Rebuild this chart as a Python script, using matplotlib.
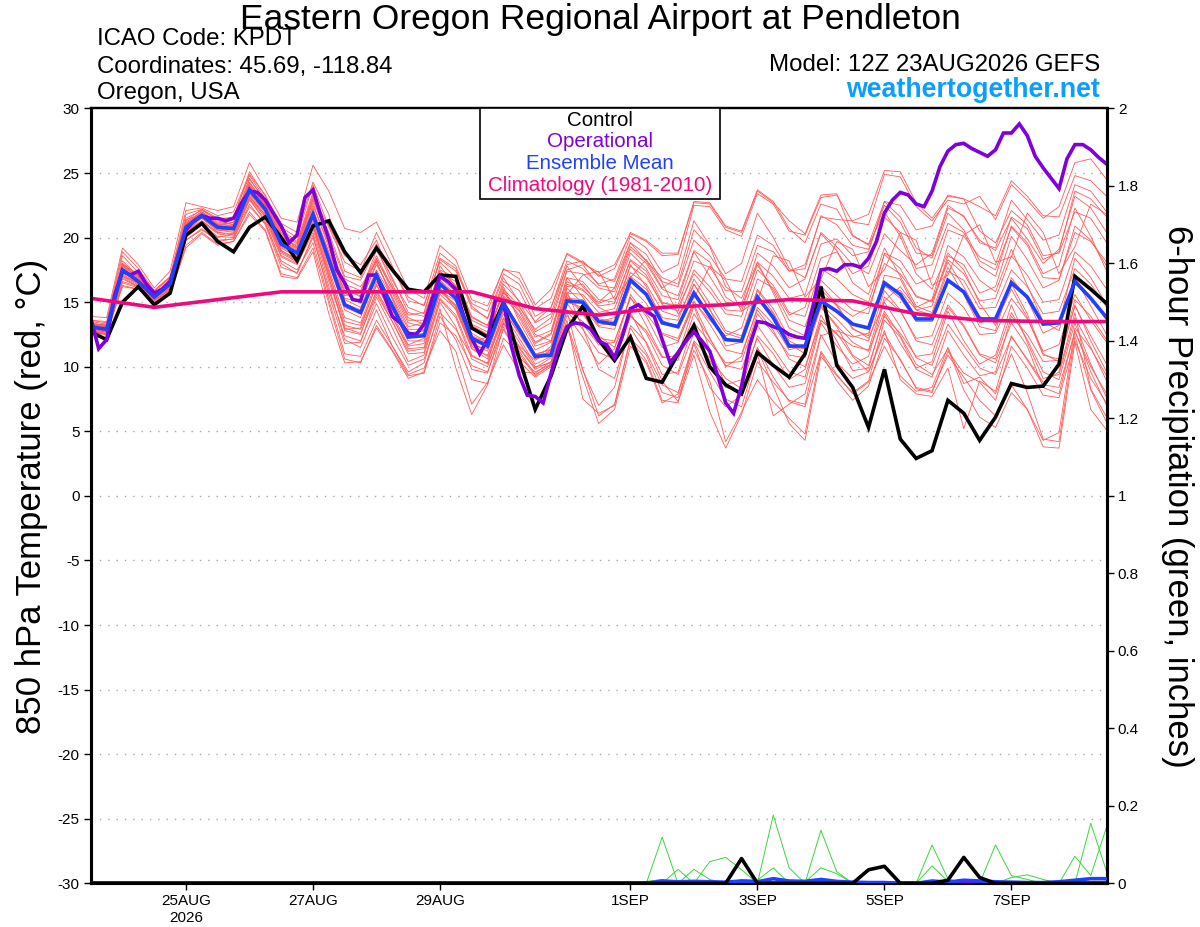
import matplotlib
matplotlib.use("Agg")
import matplotlib.pyplot as plt
from matplotlib.patches import Rectangle
from datetime import datetime, timedelta

plt.rcParams['font.family'] = ['Liberation Sans', 'DejaVu Sans']

# ---------------- data ----------------
start = datetime(2026, 8, 23, 12)
times6 = [start + timedelta(hours=6 * i) for i in range(65)]
times3 = [start + timedelta(hours=3 * i) for i in range(129)]
times24 = [start + timedelta(hours=24 * i) for i in range(17)]

control = [12.7, 12.1, 15.0, 16.2, 14.8, 15.7, 20.2, 21.1, 19.7, 18.9, 20.8, 21.6, 20.0, 18.2, 20.9, 21.3,
           18.9, 17.3, 19.2, 17.5, 16.0, 15.8, 17.1, 17.0, 13.0, 12.3, 14.9, 10.6, 6.7, 9.3, 12.9, 14.7,
           12.1, 10.5, 12.3, 9.1, 8.8, 11.0, 13.2, 10.0, 8.6, 7.9, 11.1, 10.1, 9.2, 11.0, 16.2, 10.1,
           8.4, 5.3, 9.8, 4.4, 2.9, 3.5, 7.4, 6.4, 4.3, 6.1, 8.7, 8.4, 8.5, 10.2, 17.0, 16.0, 14.9]

ens_mean = [13.1, 12.9, 17.5, 16.6, 15.4, 16.4, 20.8, 21.7, 20.8, 20.7, 23.7, 22.2, 19.5, 18.8, 21.8, 18.3,
            14.8, 14.2, 17.1, 14.7, 12.3, 12.4, 16.4, 15.3, 12.2, 11.6, 14.9, 12.9, 10.8, 10.9, 15.1, 15.0,
            13.5, 13.3, 16.7, 15.6, 13.4, 13.1, 15.7, 13.9, 12.1, 12.0, 15.4, 13.8, 11.6, 11.6, 15.1, 14.3,
            13.3, 13.0, 16.5, 15.6, 13.7, 13.7, 16.7, 15.8, 13.7, 13.7, 16.5, 15.4, 13.3, 13.4, 16.6, 15.3, 13.8]

operational = [13.8, 11.4, 12.1, 15.5, 17.4, 17.1, 17.4, 16.4, 15.7, 16.0, 16.6, 18.6, 20.6, 21.3, 21.7, 21.5,
               21.5, 21.3, 21.5, 22.7, 23.6, 23.5, 22.9, 21.9, 20.9, 19.6, 20.2, 23.1, 23.7, 21.7, 19.9, 17.5,
               16.5, 15.2, 15.1, 17.1, 17.1, 15.5, 13.9, 13.4, 12.6, 12.5, 13.3, 15.2, 17.0, 16.6, 16.0, 13.9,
               12.2, 11.0, 12.1, 15.2, 15.1, 11.6, 9.3, 7.8, 7.7, 7.2, 9.5, 11.6, 13.1, 13.4, 13.3, 12.9,
               12.0, 11.7, 10.7, 12.4, 14.5, 14.8, 14.3, 13.9, 12.1, 10.3, 11.1, 12.0, 12.7, 12.0, 11.2, 9.3,
               7.2, 6.4, 8.5, 11.6, 13.5, 13.4, 13.1, 12.9, 12.5, 12.3, 12.2, 14.7, 17.5, 17.6, 17.4, 17.9,
               17.9, 17.7, 18.4, 19.7, 21.9, 22.9, 23.5, 23.3, 22.6, 22.4, 23.6, 25.5, 26.7, 27.2, 27.3, 26.9,
               26.6, 26.3, 26.8, 28.1, 28.1, 28.8, 27.9, 26.3, 25.4, 24.6, 23.8, 26.1, 27.2, 27.2, 26.8, 26.2,
               25.7]

climatology = [15.3, 14.6, 15.2, 15.8, 15.8, 15.8, 15.8, 14.5, 14.0, 14.6, 14.8, 15.2, 15.1, 14.1, 13.6, 13.5, 13.5]

members = [
    [13.6, 13.4, 18.2, 17.0, 15.8, 16.9, 21.5, 22.1, 21.4, 21.6, 24.8, 23.0, 20.4, 19.6, 23.1, 20.9,
     18.6, 17.9, 19.8, 16.7, 14.6, 14.1, 18.4, 17.6, 14.5, 13.8, 17.2, 16.4, 13.9, 14.6, 18.2, 17.6,
     16.4, 16.8, 20.1, 19.2, 17.3, 17.9, 22.5, 22.4, 20.6, 20.1, 23.4, 22.6, 20.5, 20.2, 23.1, 23.3,
     21.2, 21.0, 24.9, 24.7, 22.4, 21.3, 22.9, 22.6, 23.2, 21.4, 24.1, 22.9, 21.5, 22.4, 25.8, 26.1, 24.5],
    [12.8, 12.7, 16.9, 16.2, 15.2, 15.9, 19.8, 20.6, 19.8, 19.9, 22.4, 21.1, 18.2, 17.5, 19.6, 15.2,
     11.0, 10.8, 13.6, 11.6, 9.4, 9.9, 12.8, 11.2, 7.1, 8.8, 11.7, 9.6, 9.5, 10.4, 13.3, 9.8,
     6.2, 7.1, 12.2, 10.9, 8.0, 7.6, 11.3, 8.9, 4.2, 6.5, 9.0, 7.3, 6.0, 4.8, 11.2, 9.4,
     7.9, 8.8, 11.6, 9.3, 8.1, 8.4, 11.5, 8.7, 9.2, 7.9, 11.0, 8.0, 4.4, 4.2, 12.4, 8.2, 5.7],
    [13.3, 13.2, 17.9, 16.9, 15.6, 16.8, 21.3, 22.2, 21.3, 21.0, 24.2, 22.7, 20.1, 19.2, 22.9, 19.9,
     16.1, 15.4, 18.4, 15.9, 13.4, 13.1, 17.8, 16.2, 13.1, 12.4, 15.9, 13.8, 11.6, 12.0, 16.2, 16.4,
     14.7, 14.9, 18.3, 17.4, 15.0, 14.6, 17.2, 15.8, 14.1, 13.9, 17.5, 16.3, 14.2, 13.9, 17.6, 16.8,
     15.6, 15.0, 18.7, 17.6, 15.4, 15.1, 18.3, 17.2, 15.1, 15.3, 18.6, 17.1, 15.0, 15.2, 18.9, 17.8, 16.0],
    [12.9, 12.8, 17.2, 16.4, 15.3, 16.2, 20.4, 21.3, 20.4, 20.2, 23.3, 21.7, 18.9, 18.2, 21.2, 17.4,
     13.2, 12.9, 15.8, 13.5, 11.2, 11.4, 15.2, 13.8, 10.6, 10.0, 13.5, 11.2, 9.4, 10.1, 14.0, 12.3,
     10.2, 11.4, 15.6, 13.9, 11.5, 11.9, 15.0, 13.6, 12.4, 13.0, 16.8, 16.1, 14.0, 14.6, 18.4, 18.9,
     17.2, 17.8, 21.6, 20.4, 17.6, 17.9, 21.1, 20.4, 17.8, 17.0, 20.9, 19.6, 17.2, 17.8, 22.3, 20.1, 17.4],
    [13.9, 13.8, 19.2, 17.9, 16.1, 17.4, 22.7, 22.4, 22.1, 22.4, 25.8, 23.7, 21.5, 21.2, 25.6, 23.6,
     20.7, 20.4, 21.2, 18.6, 16.0, 15.3, 19.4, 18.3, 15.2, 14.7, 17.5, 17.3, 14.8, 16.0, 18.7, 18.0,
     17.3, 17.9, 20.3, 19.7, 18.6, 18.7, 22.7, 22.6, 20.8, 20.4, 23.6, 22.7, 21.3, 20.3, 23.3, 23.4,
     20.2, 19.4, 22.0, 20.1, 17.2, 16.0, 18.8, 17.5, 14.9, 13.2, 16.4, 14.1, 11.0, 10.4, 14.8, 12.0, 9.6],
    [12.6, 12.6, 16.2, 16.0, 15.0, 15.6, 19.2, 20.3, 19.4, 19.7, 21.8, 20.5, 17.0, 16.8, 18.9, 14.1,
     10.3, 10.4, 13.0, 11.2, 9.1, 9.6, 13.9, 12.1, 9.0, 8.7, 12.2, 11.0, 9.3, 10.2, 14.4, 13.5,
     12.2, 12.0, 15.3, 14.1, 12.5, 12.0, 14.8, 12.2, 10.1, 9.8, 13.2, 11.4, 9.6, 9.2, 13.6, 12.5,
     11.6, 11.3, 15.4, 14.3, 12.2, 12.4, 15.7, 14.6, 12.5, 12.6, 15.3, 13.7, 11.2, 11.7, 15.6, 13.6, 11.9],
    [13.0, 13.1, 17.6, 16.7, 15.5, 16.6, 20.9, 21.9, 21.0, 20.9, 23.9, 22.5, 19.8, 19.1, 22.3, 18.8,
     15.2, 14.6, 17.5, 15.3, 12.6, 12.8, 16.9, 15.8, 12.6, 11.9, 15.1, 13.1, 11.0, 11.3, 15.4, 14.1,
     12.4, 11.5, 14.2, 11.8, 8.9, 7.3, 10.9, 6.5, 3.7, 6.3, 10.4, 8.8, 7.4, 7.1, 12.4, 12.8,
     12.3, 12.6, 16.2, 15.9, 14.4, 14.0, 17.4, 16.7, 14.5, 14.6, 17.5, 16.2, 14.1, 14.3, 17.6, 16.4, 14.6],
    [13.4, 13.0, 17.8, 16.8, 15.6, 16.5, 21.1, 21.8, 20.9, 20.8, 24.0, 22.4, 19.7, 19.0, 22.0, 18.6,
     15.5, 15.8, 19.0, 16.9, 14.2, 13.9, 17.5, 16.9, 13.8, 13.2, 16.6, 15.9, 13.4, 14.1, 17.9, 18.2,
     17.0, 17.6, 20.4, 19.8, 18.8, 18.8, 22.8, 22.7, 20.9, 20.5, 23.7, 22.8, 20.7, 19.6, 22.6, 22.2,
     20.1, 19.5, 22.8, 21.6, 19.2, 18.4, 21.9, 20.6, 18.2, 17.5, 20.8, 19.4, 16.9, 16.8, 20.4, 19.7, 18.1],
    [12.7, 12.5, 16.5, 16.1, 15.1, 16.0, 20.0, 21.0, 20.1, 20.0, 22.9, 21.4, 18.5, 17.9, 20.4, 16.2,
     12.1, 11.5, 14.4, 11.6, 9.6, 10.3, 14.5, 9.9, 6.3, 8.6, 13.1, 10.4, 9.2, 10.0, 13.1, 9.2,
     5.6, 6.7, 11.6, 10.3, 7.2, 7.9, 11.8, 8.4, 6.9, 7.8, 11.5, 9.2, 7.3, 6.9, 11.1, 8.9,
     7.4, 8.5, 12.2, 10.6, 8.3, 8.0, 11.2, 9.5, 8.8, 7.4, 11.6, 9.9, 7.8, 7.6, 12.0, 9.1, 7.2],
    [13.2, 13.0, 17.4, 16.5, 15.4, 16.3, 20.7, 21.6, 20.6, 20.5, 23.5, 22.0, 19.3, 18.6, 21.5, 17.9,
     14.4, 13.8, 17.0, 14.9, 12.4, 12.6, 16.7, 15.6, 12.4, 11.9, 15.4, 14.0, 11.8, 12.5, 16.6, 16.0,
     14.6, 14.0, 17.3, 16.4, 14.3, 13.9, 16.4, 14.4, 12.6, 12.2, 15.5, 14.1, 12.0, 11.4, 14.7, 13.2,
     11.9, 11.2, 14.3, 12.4, 10.2, 9.4, 11.4, 8.2, 6.1, 5.3, 8.0, 6.7, 4.3, 4.9, 13.0, 11.4, 9.3],
    [13.1, 12.9, 17.7, 16.7, 15.5, 16.5, 21.0, 21.9, 21.0, 21.2, 24.3, 22.6, 19.9, 19.4, 22.7, 19.2,
     15.7, 14.9, 18.1, 15.4, 12.9, 12.9, 16.6, 15.4, 12.3, 11.8, 15.2, 12.9, 10.9, 11.4, 15.7, 15.6,
     14.2, 14.5, 17.8, 16.9, 14.9, 14.8, 18.2, 17.7, 15.9, 15.8, 19.4, 18.9, 17.4, 17.9, 21.6, 21.4,
     21.3, 21.8, 25.2, 25.1, 22.7, 21.5, 23.2, 23.0, 20.5, 19.6, 22.1, 21.0, 18.6, 18.8, 22.0, 21.5, 19.6],
    [12.9, 12.9, 17.3, 16.6, 15.4, 16.4, 20.6, 21.6, 20.7, 20.6, 23.5, 22.0, 19.2, 18.5, 21.4, 17.6,
     13.8, 13.4, 16.6, 14.4, 12.0, 12.0, 16.0, 14.7, 11.4, 10.9, 14.1, 12.2, 10.2, 10.8, 15.0, 14.6,
     13.1, 12.9, 16.2, 14.9, 12.6, 12.2, 15.1, 13.3, 11.3, 11.0, 14.4, 12.8, 10.6, 10.0, 13.6, 12.6,
     10.8, 9.6, 12.6, 10.5, 8.4, 8.1, 10.9, 9.2, 7.4, 6.2, 8.6, 6.7, 3.8, 3.7, 11.9, 6.7, 5.1],
    [13.5, 13.3, 18.6, 17.3, 15.9, 16.9, 21.8, 22.2, 21.5, 21.5, 25.1, 23.2, 21.1, 20.4, 24.3, 21.8,
     17.4, 16.9, 19.5, 17.6, 15.4, 14.7, 18.8, 17.8, 14.7, 13.7, 16.9, 15.0, 12.7, 13.4, 17.4, 17.2,
     16.1, 15.8, 19.1, 18.0, 16.0, 15.5, 19.0, 18.1, 15.4, 14.6, 17.9, 15.9, 13.6, 13.1, 16.7, 15.5,
     14.4, 14.1, 18.8, 18.2, 16.4, 16.9, 20.6, 20.1, 18.5, 17.9, 21.6, 20.7, 18.3, 18.9, 23.6, 23.0, 21.6],
    [12.8, 12.6, 17.0, 16.3, 15.2, 16.1, 20.3, 21.2, 20.3, 20.1, 23.0, 21.6, 18.8, 18.1, 20.9, 16.9,
     12.8, 12.5, 15.9, 13.8, 11.6, 11.8, 15.6, 14.5, 11.6, 10.8, 13.8, 11.9, 10.0, 10.3, 14.3, 12.9,
     11.1, 10.6, 14.0, 12.6, 10.1, 9.4, 12.6, 10.5, 8.4, 8.1, 11.4, 8.5, 5.6, 4.3, 10.8, 9.3,
     8.0, 8.9, 13.6, 12.3, 9.8, 9.2, 12.8, 10.9, 9.3, 9.6, 13.9, 12.5, 10.4, 10.5, 14.7, 12.4, 10.2],
    [13.2, 13.1, 17.5, 16.6, 15.5, 16.4, 20.9, 21.7, 20.8, 20.8, 23.7, 22.3, 19.6, 18.9, 22.1, 18.9,
     15.9, 15.5, 18.3, 16.2, 14.0, 14.2, 18.3, 17.4, 14.9, 14.3, 17.6, 16.8, 14.5, 15.3, 18.8, 18.1,
     17.1, 16.6, 19.6, 18.7, 16.6, 16.2, 19.8, 18.6, 16.8, 16.6, 20.2, 19.4, 17.4, 17.6, 21.7, 21.0,
     19.4, 19.1, 22.5, 21.2, 18.8, 18.6, 22.3, 21.7, 19.6, 19.2, 22.9, 21.4, 19.8, 20.2, 24.1, 23.6, 22.0],
    [13.0, 12.7, 17.1, 16.4, 15.3, 16.3, 20.5, 21.5, 20.6, 20.4, 23.1, 21.8, 19.0, 18.3, 21.0, 17.2,
     13.5, 13.2, 16.3, 14.1, 11.7, 12.2, 16.1, 14.4, 11.4, 10.6, 13.7, 11.4, 9.8, 10.4, 14.3, 9.7,
     7.0, 8.4, 13.2, 11.9, 9.4, 9.6, 13.4, 11.9, 10.3, 10.4, 14.1, 12.6, 10.9, 10.7, 14.8, 13.7,
     12.4, 12.0, 15.9, 14.4, 12.0, 11.7, 14.8, 13.2, 11.0, 10.6, 14.2, 12.1, 9.6, 9.0, 13.4, 10.2, 7.6],
    [13.3, 13.1, 17.8, 16.9, 15.6, 16.7, 21.1, 22.0, 21.1, 20.9, 24.1, 22.5, 19.8, 19.2, 22.5, 19.5,
     16.4, 15.9, 18.6, 16.1, 13.6, 13.6, 17.4, 16.3, 13.3, 12.7, 15.8, 14.4, 12.3, 12.8, 16.9, 16.6,
     15.2, 15.0, 18.2, 17.1, 14.8, 14.3, 17.5, 16.2, 14.4, 14.3, 18.1, 17.0, 15.3, 15.6, 19.5, 19.9,
     18.6, 18.9, 22.8, 22.5, 20.6, 20.9, 23.3, 23.0, 22.4, 21.7, 24.4, 23.2, 21.7, 21.6, 24.8, 24.4, 23.2],
    [12.6, 12.5, 16.3, 16.0, 15.0, 15.6, 19.4, 20.4, 19.5, 19.7, 22.0, 20.6, 17.2, 16.9, 19.2, 14.9,
     10.6, 10.3, 13.2, 11.3, 9.3, 9.5, 13.4, 12.4, 10.1, 9.6, 12.9, 10.7, 9.6, 10.2, 13.6, 7.5,
     6.4, 7.0, 12.1, 10.5, 7.4, 7.2, 11.9, 9.6, 7.5, 6.9, 11.0, 6.2, 7.1, 7.9, 12.5, 10.3,
     9.1, 9.6, 12.8, 9.0, 7.9, 7.7, 9.9, 5.2, 8.9, 8.1, 12.4, 10.5, 8.6, 8.4, 12.7, 10.0, 7.9],
    [13.0, 12.9, 17.5, 16.6, 15.4, 16.4, 20.8, 21.7, 20.9, 20.8, 23.8, 22.2, 19.4, 18.8, 21.9, 18.4,
     14.9, 14.4, 17.3, 14.8, 12.3, 12.5, 16.6, 15.5, 12.3, 11.6, 15.0, 13.1, 10.9, 11.1, 15.3, 15.2,
     13.7, 13.5, 16.9, 15.7, 13.5, 13.2, 15.9, 14.0, 12.2, 12.0, 15.5, 13.8, 11.5, 11.4, 15.0, 14.2,
     13.3, 12.9, 16.3, 15.3, 13.5, 13.5, 16.6, 15.7, 13.4, 13.7, 16.7, 15.5, 13.4, 13.5, 16.8, 15.4, 13.6],
    [13.4, 13.2, 18.0, 17.0, 15.7, 16.6, 21.2, 22.0, 21.2, 21.0, 24.0, 22.6, 20.2, 19.3, 23.0, 20.4,
     17.0, 16.7, 19.2, 16.4, 13.8, 13.3, 16.1, 14.6, 11.8, 11.2, 14.4, 12.5, 10.6, 11.6, 16.1, 14.9,
     13.2, 13.4, 17.0, 16.0, 13.8, 13.6, 16.8, 14.9, 12.8, 12.4, 16.0, 14.5, 12.2, 12.3, 16.3, 14.8,
     13.0, 12.2, 15.0, 13.1, 10.7, 10.1, 13.3, 11.6, 9.9, 9.4, 12.3, 10.6, 8.8, 9.6, 14.2, 8.3, 6.1],
    [13.2, 13.3, 17.9, 17.1, 15.7, 16.5, 21.0, 21.5, 20.5, 20.9, 24.5, 22.9, 20.6, 19.7, 23.5, 20.1,
     16.8, 16.2, 18.2, 15.2, 12.2, 12.4, 15.9, 15.1, 11.9, 12.3, 16.0, 14.7, 12.5, 12.0, 15.6, 17.1,
     17.4, 15.2, 16.9, 18.3, 16.5, 14.1, 15.3, 17.8, 16.7, 14.3, 15.1, 18.6, 18.2, 15.4, 16.8, 19.7,
     19.1, 16.2, 17.5, 20.4, 19.8, 16.3, 17.1, 20.2, 21.0, 18.1, 18.5, 21.9, 20.4, 17.2, 19.3, 22.6, 21.8],
    [12.8, 12.8, 16.8, 16.2, 15.1, 16.0, 20.1, 21.0, 20.0, 20.3, 23.0, 21.2, 18.0, 17.2, 20.2, 15.6,
     11.8, 11.9, 15.4, 13.0, 10.4, 10.9, 15.0, 13.1, 9.8, 9.5, 13.4, 11.6, 10.5, 11.2, 15.6, 14.2,
     11.9, 10.3, 13.9, 12.8, 10.7, 10.9, 14.7, 11.3, 8.6, 9.0, 12.2, 10.1, 8.4, 8.7, 13.4, 11.6,
     10.2, 10.8, 15.1, 16.2, 14.6, 15.2, 19.4, 18.5, 16.7, 15.8, 19.1, 16.3, 13.5, 12.8, 16.9, 14.7, 12.5],
    [13.6, 13.5, 18.9, 17.6, 15.9, 17.0, 22.1, 22.3, 21.7, 22.0, 24.9, 23.3, 20.8, 20.0, 24.1, 20.8,
     18.1, 17.4, 20.4, 17.8, 15.1, 14.8, 18.1, 16.9, 13.9, 13.2, 16.4, 15.1, 13.5, 14.6, 17.8, 16.2,
     15.0, 16.1, 19.6, 18.2, 16.1, 16.9, 21.3, 19.4, 17.2, 18.0, 21.9, 20.0, 17.6, 16.9, 20.3, 19.0,
     16.5, 15.6, 19.2, 17.0, 14.7, 14.2, 17.7, 15.6, 13.1, 12.8, 16.9, 15.2, 12.6, 13.2, 18.4, 16.9, 14.8],
    [12.7, 12.6, 16.6, 16.2, 15.1, 15.8, 19.8, 20.7, 19.7, 19.9, 22.6, 21.0, 17.7, 17.3, 20.0, 15.9,
     12.4, 12.0, 14.9, 12.3, 10.1, 10.6, 14.2, 12.9, 10.8, 10.3, 14.4, 12.6, 10.6, 11.3, 15.8, 13.0,
     9.8, 9.1, 13.0, 11.1, 8.6, 8.0, 12.0, 10.7, 9.1, 8.3, 12.4, 11.0, 9.0, 9.8, 14.0, 12.0,
     9.7, 9.9, 14.1, 11.8, 9.9, 10.4, 14.3, 12.0, 10.2, 10.9, 14.8, 11.9, 9.1, 9.4, 13.8, 11.5, 8.9],
    [13.3, 13.0, 17.6, 16.8, 15.5, 16.6, 21.0, 21.8, 21.0, 20.6, 23.6, 22.1, 19.6, 18.9, 22.0, 18.0,
     14.6, 14.1, 17.2, 14.5, 12.5, 12.8, 17.0, 16.1, 13.2, 12.5, 15.7, 14.6, 12.9, 13.8, 17.5, 17.9,
     16.3, 16.1, 19.3, 18.2, 16.9, 16.4, 20.6, 19.3, 16.2, 15.3, 18.1, 15.7, 13.0, 12.4, 16.0, 14.7,
     12.9, 12.4, 17.1, 16.8, 14.4, 14.7, 18.6, 17.9, 15.7, 16.2, 20.1, 18.3, 16.1, 16.7, 20.9, 19.8, 17.8],
    [13.0, 12.8, 17.4, 16.5, 15.3, 16.4, 20.6, 21.7, 20.7, 20.6, 23.4, 21.9, 19.0, 18.3, 21.1, 17.0,
     12.9, 13.0, 16.4, 13.9, 11.4, 11.5, 15.8, 14.8, 11.7, 11.4, 15.5, 14.3, 11.9, 12.6, 16.9, 15.4,
     13.5, 13.8, 17.9, 16.2, 13.6, 13.0, 16.4, 14.5, 11.6, 11.9, 15.9, 14.2, 11.8, 11.0, 14.6, 13.1,
     10.9, 10.1, 13.9, 12.6, 10.8, 11.0, 14.6, 13.1, 10.9, 10.3, 13.4, 11.6, 8.4, 7.9, 12.8, 9.6, 7.0],
    [13.1, 13.2, 18.0, 17.1, 15.6, 16.6, 21.4, 21.8, 20.9, 21.2, 24.6, 22.8, 20.3, 19.5, 23.3, 19.6,
     15.3, 15.0, 17.9, 15.7, 13.1, 13.4, 17.3, 16.6, 13.6, 13.0, 16.2, 13.5, 11.3, 11.9, 16.4, 15.9,
     14.9, 15.4, 18.8, 17.6, 15.5, 15.2, 18.9, 17.0, 15.0, 14.8, 18.8, 17.8, 16.1, 16.8, 20.4, 19.3,
     17.9, 17.2, 20.3, 19.0, 17.9, 18.8, 22.5, 21.6, 19.8, 19.0, 21.5, 19.9, 18.0, 19.1, 23.2, 22.3, 20.4],
    [12.9, 12.7, 17.0, 16.5, 15.3, 16.1, 20.5, 21.3, 20.4, 20.3, 23.2, 21.6, 18.6, 18.0, 20.7, 16.6,
     13.0, 12.6, 15.6, 13.5, 11.0, 11.1, 15.3, 14.0, 10.9, 10.2, 13.3, 11.5, 9.9, 10.7, 14.9, 13.3,
     11.7, 11.9, 15.4, 13.2, 10.8, 10.5, 14.1, 12.2, 10.0, 10.8, 14.6, 13.3, 11.3, 11.7, 15.6, 14.8,
     13.9, 14.6, 18.0, 17.2, 15.5, 15.0, 18.1, 16.2, 13.9, 13.4, 16.0, 13.8, 10.9, 10.6, 15.2, 13.9, 12.1],
]

# 6-hour precipitation (inches)
control_precip = [0.0] * 41 + [0.064, 0.0] + [0.0] * 6 + [0.035, 0.044, 0.0, 0.0, 0.0, 0.008, 0.067, 0.015] + [0.0] * 8
mean_precip = [0.0] * 36 + [0.006, 0.004, 0.005, 0.004, 0.003, 0.006, 0.004, 0.012, 0.006, 0.005, 0.010, 0.005,
                            0.003, 0.002, 0.002, 0.0, 0.0, 0.006, 0.003, 0.008, 0.006, 0.004, 0.003, 0.002,
                            0.002, 0.004, 0.008, 0.012, 0.012]
oper_precip = [0.0] * 65
member_precip = [
    [0.0] * 36 + [0.119] + [0.0] * 28,
    [0.0] * 37 + [0.036] + [0.0] * 27,
    [0.0] * 38 + [0.036, 0.010] + [0.0] * 25,
    [0.0] * 39 + [0.056, 0.067, 0.035] + [0.0] * 23,
    [0.0] * 43 + [0.176, 0.040] + [0.0] * 8 + [0.099, 0.012] + [0.0] * 10,
    [0.0] * 44 + [0.005, 0.0, 0.137, 0.030] + [0.0] * 9 + [0.099, 0.020, 0.010] + [0.0] * 5,
    [0.0] * 45 + [0.003, 0.040, 0.025] + [0.0] * 5 + [0.045, 0.005] + [0.0] * 7 + [0.070, 0.020, 0.146],
    [0.0] * 41 + [0.010, 0.008, 0.040] + [0.0] * 14 + [0.015, 0.022, 0.010, 0.0, 0.0, 0.155, 0.030],
    [0.0] * 8 + [0.004, 0.002, 0.0, 0.0, 0.0, 0.003] + [0.0] * 21 + [0.005, 0.010] + [0.0] * 28,
]

y_ticks_left = [-30, -25, -20, -15, -10, -5, 0, 5, 10, 15, 20, 25, 30]
y_ticks_right = [0, 0.2, 0.4, 0.6, 0.8, 1, 1.2, 1.4, 1.6, 1.8, 2]
y_ticklabels_right = ['0', '0.2', '0.4', '0.6', '0.8', '1', '1.2', '1.4', '1.6', '1.8', '2']
tick_dates = [datetime(2026, 8, 25), datetime(2026, 8, 27), datetime(2026, 8, 29), datetime(2026, 9, 1),
              datetime(2026, 9, 3), datetime(2026, 9, 5), datetime(2026, 9, 7)]
tick_labels = ['25AUG\n2026', '27AUG', '29AUG', '1SEP', '3SEP', '5SEP', '7SEP']

# ---------------- colours ----------------
C_MEMBER = '#ff5a5a'
C_GREEN = '#3ad63a'
C_CTRL = '#000000'
C_OPER = '#7f00dc'
C_MEAN = '#2040ff'
C_CLIM = '#f0087e'
C_SITE = '#0a9eff'

# ---------------- figure ----------------
fig = plt.figure(figsize=(12, 9.27), dpi=100)
ax = fig.add_axes([0.0756, 0.0471, 0.8466, 0.8359])

for yv in y_ticks_left[1:-1]:
    ax.axhline(yv, color='#a8a8a8', lw=1.0, ls=(0, (1, 5)), zorder=1)

for m in members:
    ax.plot(times6, m, color=C_MEMBER, lw=0.6, zorder=2)

ax.plot(times6, control, color=C_CTRL, lw=2.6, zorder=5, solid_joinstyle='miter')
ax.plot(times3, operational, color=C_OPER, lw=2.6, zorder=6, solid_joinstyle='miter')
ax.plot(times6, ens_mean, color=C_MEAN, lw=2.6, zorder=7, solid_joinstyle='miter')
ax.plot(times24, climatology, color=C_CLIM, lw=2.6, zorder=8)

ax.set_xlim(times6[0], times6[-1])
ax.set_ylim(-30, 30)
ax.set_yticks(y_ticks_left)
ax.set_yticklabels([str(v) for v in y_ticks_left])
ax.set_xticks(tick_dates)
ax.set_xticklabels(tick_labels)
ax.tick_params(axis='both', direction='out', length=5, width=1, labelsize=11, pad=3)

for s in ['left', 'bottom', 'right']:
    ax.spines[s].set_linewidth(2.2)
ax.spines['top'].set_linewidth(1.6)

ax2 = ax.twinx()
ax2.set_ylim(0, 2)
for g in member_precip:
    ax2.plot(times6, g, color=C_GREEN, lw=0.7, zorder=2)
ax2.plot(times6, oper_precip, color=C_OPER, lw=2.6, zorder=3)
ax2.plot(times6, mean_precip, color=C_MEAN, lw=2.6, zorder=4)
ax2.plot(times6, control_precip, color=C_CTRL, lw=2.6, zorder=5)
ax2.set_yticks(y_ticks_right)
ax2.set_yticklabels(y_ticklabels_right)
ax2.tick_params(axis='y', direction='out', length=5, width=1, labelsize=11, pad=3)
for s in ['left', 'bottom', 'right']:
    ax2.spines[s].set_linewidth(2.2)
ax2.spines['top'].set_linewidth(1.6)
ax2.set_xlim(times6[0], times6[-1])

# legend box
leg_x0, leg_x1 = 0.383, 0.619
leg_y0 = 0.883
ax2.add_patch(Rectangle((leg_x0, leg_y0), leg_x1 - leg_x0, 1 - leg_y0, transform=ax2.transAxes,
                        facecolor='white', edgecolor='black', lw=1.2, zorder=20))
legend_items = [('Control', C_CTRL), ('Operational', C_OPER), ('Ensemble Mean', C_MEAN),
                ('Climatology (1981-2010)', C_CLIM)]
leg_rows = [0.9846, 0.9575, 0.9291, 0.9007]
for (txt, col), yy in zip(legend_items, leg_rows):
    ax2.text(0.5015, yy, txt, color=col, fontsize=14.8, ha='center', va='center',
             transform=ax2.transAxes, zorder=21)

# axis labels
fig.text(0.026, 0.465, '850 hPa Temperature (red, \u00b0C)', rotation=90, fontsize=25,
         ha='center', va='center')
fig.text(0.981, 0.465, '6-hour Precipitation (green, inches)', rotation=270, fontsize=25,
         ha='center', va='center')

# header texts
fig.text(0.5, 1 - 28.5 / 927, 'Eastern Oregon Regional Airport at Pendleton', fontsize=25.5,
         ha='center', va='baseline')
fig.text(97 / 1200, 1 - 45 / 927, 'ICAO Code: KPDT', fontsize=17.3, ha='left', va='baseline')
fig.text(97 / 1200, 1 - 72.5 / 927, 'Coordinates: 45.69, -118.84', fontsize=17.3, ha='left', va='baseline')
fig.text(97 / 1200, 1 - 99.3 / 927, 'Oregon, USA', fontsize=17.3, ha='left', va='baseline')
fig.text(1100 / 1200, 1 - 70.7 / 927, 'Model: 12Z 23AUG2026 GEFS', fontsize=17.3, ha='right', va='baseline')
fig.text(1100 / 1200, 1 - 96.7 / 927, 'weathertogether.net', fontsize=19.3, fontweight='bold',
         color=C_SITE, ha='right', va='baseline')

fig.savefig('out.png', dpi=100)
